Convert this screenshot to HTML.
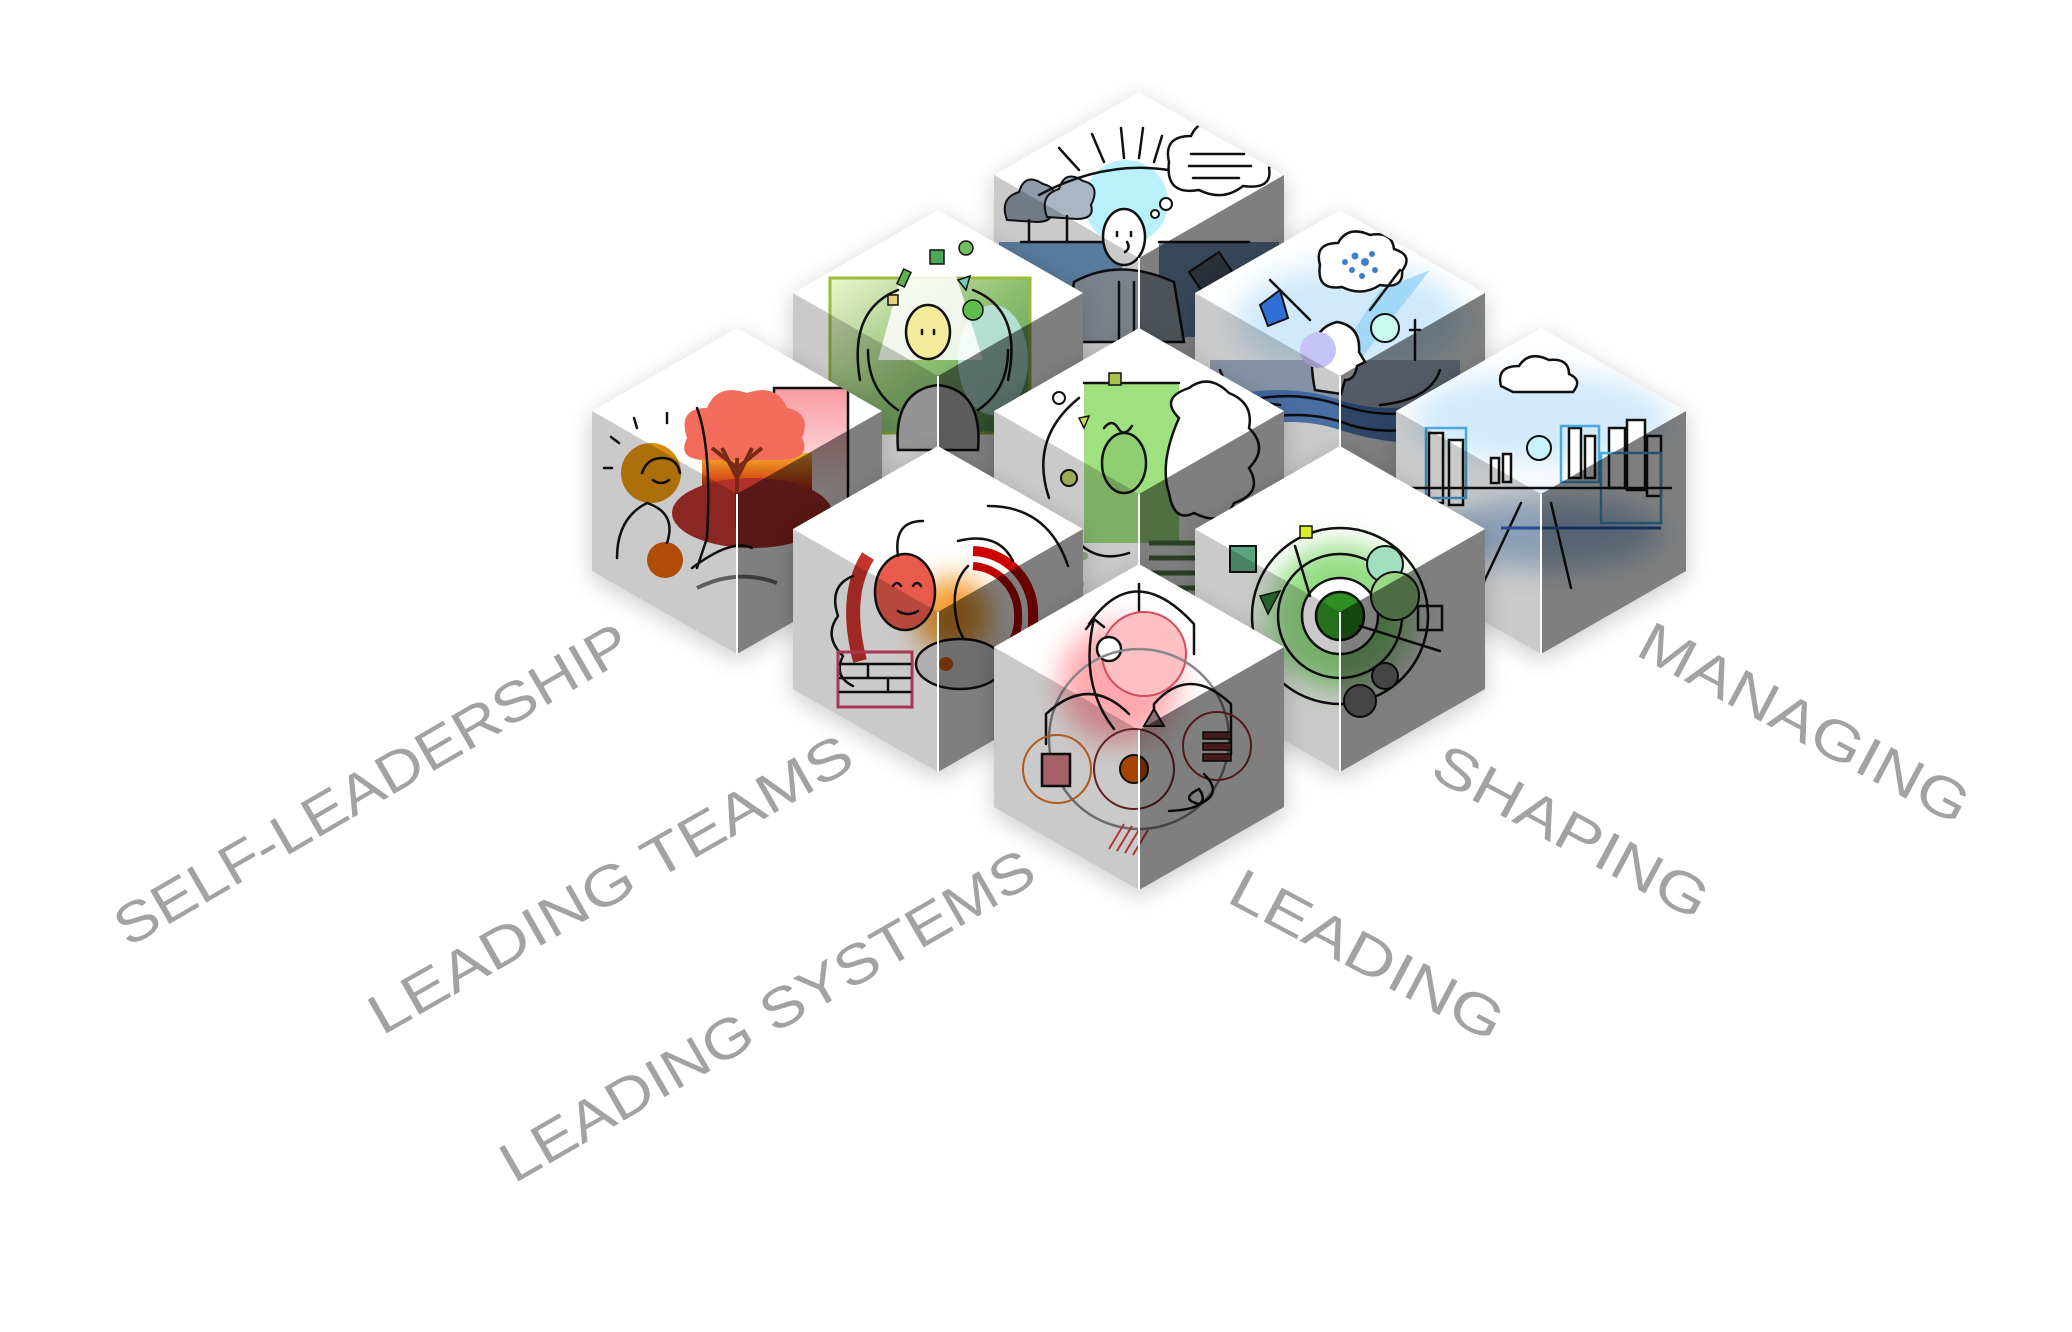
<!DOCTYPE html>
<html><head><meta charset="utf-8"><style>
html,body{margin:0;padding:0;background:#fff;}
svg{display:block}
.lbl{font-family:"Liberation Sans",sans-serif;font-size:56px;fill:#a2a2a2;}
.k{fill:none;stroke:#111;stroke-width:2.5;stroke-linecap:round;stroke-linejoin:round}
.mf{mix-blend-mode:multiply}
</style></head><body>
<svg width="2072" height="1332" viewBox="0 0 2072 1332" xmlns="http://www.w3.org/2000/svg">
<defs>
<polygon id="hex" points="0,0 145,83 145,243 0,326 -145,243 -145,83"/>
<clipPath id="hc"><polygon points="0,0 145,83 145,243 0,326 -145,243 -145,83"/></clipPath>
<filter id="sh" x="-30%" y="-30%" width="160%" height="160%"><feGaussianBlur stdDeviation="12"/></filter>
<filter id="bl" x="-50%" y="-50%" width="200%" height="200%"><feGaussianBlur stdDeviation="14"/></filter>
<linearGradient id="sun" x1="0" y1="0" x2="0" y2="1"><stop offset="0" stop-color="#f7b22a"/><stop offset="1" stop-color="#c4180c"/></linearGradient>
<linearGradient id="pk" x1="0" y1="0" x2="0" y2="1"><stop offset="0" stop-color="#f99aa2"/><stop offset="1" stop-color="#fff"/></linearGradient>
<linearGradient id="gr" x1="0" y1="0" x2="1" y2="1"><stop offset="0" stop-color="#e9f4c8"/><stop offset="0.5" stop-color="#7ab357"/><stop offset="1" stop-color="#2f7a3a"/></linearGradient>
</defs>

<!-- labels -->
<text class="lbl" transform="translate(128,948) rotate(-30.1)" textLength="586" lengthAdjust="spacingAndGlyphs">SELF-LEADERSHIP</text>
<text class="lbl" transform="translate(382,1036) rotate(-29.6)" textLength="547" lengthAdjust="spacingAndGlyphs">LEADING TEAMS</text>
<text class="lbl" transform="translate(514,1184) rotate(-30)" textLength="607" lengthAdjust="spacingAndGlyphs">LEADING SYSTEMS</text>
<text class="lbl" transform="translate(1634,654) rotate(28)" textLength="366" lengthAdjust="spacingAndGlyphs">MANAGING</text>
<text class="lbl" transform="translate(1428,776) rotate(28.4)" textLength="305" lengthAdjust="spacingAndGlyphs">SHAPING</text>
<text class="lbl" transform="translate(1225,901) rotate(28)" textLength="302" lengthAdjust="spacingAndGlyphs">LEADING</text>

<!-- CUBE 0 top -->
<g transform="translate(1139,92)">
<use href="#hex" fill="#000" opacity=".2" filter="url(#sh)" transform="translate(0,6)"/>
<use href="#hex" fill="#fff"/>
<g clip-path="url(#hc)">
<circle cx="-13" cy="110" r="42" fill="#b9f1fb"/>
<polygon points="-140,150 -10,150 -35,245 -140,245" fill="#6f9ac4"/>
<polygon points="20,150 140,150 140,245 20,245" fill="#6d8fb5"/>
<path class="k" d="M-118,150 H-10 M20,150 H110"/>
<path d="M-132,128 q-8,-22 12,-28 q6,-20 24,-8 q18,4 8,24 q4,14 -14,14 z" fill="#8d9bab" stroke="#111" stroke-width="2"/>
<path d="M-92,125 q-8,-22 12,-28 q6,-20 24,-8 q18,4 8,24 q4,14 -14,14 z" fill="#a9b6c3" stroke="#111" stroke-width="2"/>
<path class="k" d="M-110,128 V150 M-72,124 V150"/>
<path class="k" d="M-100,103 Q-20,60 60,85"/>
<path class="k" d="M-60,78 l-20,-22 M-35,70 l-12,-28 M-15,66 l-3,-30 M0,66 l4,-30 M15,70 l8,-26"/>
<path d="M30,70 q-6,-26 22,-26 q10,-22 36,-10 q26,-6 30,16 q24,6 12,26 q4,22 -26,18 q-20,16 -44,4 q-34,6 -30,-28z" fill="#fff" stroke="#111" stroke-width="2.5"/>
<path class="k" d="M52,62 H105 M50,74 H112 M54,86 H100"/>
<circle cx="27" cy="112" r="6" fill="#fff" stroke="#111" stroke-width="2"/><circle cx="16" cy="122" r="4" fill="#fff" stroke="#111" stroke-width="2"/>
<path d="M-65,190 q45,-25 100,0 l10,60 h-120z" fill="#9ba4ae" stroke="#111" stroke-width="2.5"/>
<path class="k" d="M-20,190 V250 M-5,190 V250"/>
<ellipse cx="-15" cy="145" rx="21" ry="28" fill="#fff" stroke="#111" stroke-width="2.5"/>
<path class="k" d="M-22,140 v4 M-8,140 v4 M-12,150 q4,6 -2,10"/>
<path d="M50,180 l30,-20 l20,30 l-30,20z" fill="#556170" stroke="#111" stroke-width="2"/>
</g>
<polygon class="mf" points="-145,83 0,166 0,326 -145,243" fill="#cacaca"/>
<polygon class="mf" points="145,83 0,166 0,326 145,243" fill="#7f7f7f"/>
<line x1="0" y1="166" x2="0" y2="326" stroke="#fff" stroke-width="2"/>
</g>

<!-- CUBE 1 green person -->
<g transform="translate(938,210)">
<use href="#hex" fill="#000" opacity=".2" filter="url(#sh)" transform="translate(0,6)"/>
<use href="#hex" fill="#fff"/>
<g clip-path="url(#hc)">
<rect x="-108" y="68" width="200" height="155" fill="url(#gr)" opacity=".85"/>
<ellipse cx="55" cy="150" rx="35" ry="55" fill="#bfe8ea" opacity=".8"/>
<rect x="-108" y="68" width="200" height="155" fill="none" stroke="#9bbb3c" stroke-width="3"/>
<polygon points="-30,40 10,40 45,150 -60,150" fill="#fff" opacity=".85"/>
<path class="k" d="M-78,170 Q-90,100 -40,80 M70,170 Q85,100 35,80"/>
<path d="M-40,240 q-5,-60 40,-65 q45,5 40,65z" fill="#bbb" stroke="#111" stroke-width="2.5"/>
<path class="k" d="M-40,200 Q-70,180 -70,140 M40,200 Q70,180 70,140"/>
<ellipse cx="-10" cy="122" rx="22" ry="27" fill="#f3ea9a" stroke="#111" stroke-width="2.5"/>
<path class="k" d="M-16,120 v4 M-4,120 v4"/>
<rect x="-38" y="60" width="8" height="16" fill="#5db54a" stroke="#111" stroke-width="1.5" transform="rotate(25 -34 68)"/>
<rect x="-8" y="40" width="14" height="14" fill="#4aa85a" stroke="#111" stroke-width="1.5"/>
<circle cx="28" cy="38" r="7" fill="#6ec05a" stroke="#111" stroke-width="1.5"/>
<circle cx="35" cy="100" r="10" fill="#5cc04a" stroke="#111" stroke-width="1.5"/>
<polygon points="20,70 32,66 28,80" fill="#6ad0b0" stroke="#111" stroke-width="1.5"/>
<rect x="-50" y="85" width="10" height="10" fill="#e3d27a" stroke="#111" stroke-width="1.5"/>
</g>
<polygon class="mf" points="-145,83 0,166 0,326 -145,243" fill="#cacaca"/>
<polygon class="mf" points="145,83 0,166 0,326 145,243" fill="#7f7f7f"/>
<line x1="0" y1="166" x2="0" y2="326" stroke="#fff" stroke-width="2"/>
</g>

<!-- CUBE 2 swimmer -->
<g transform="translate(1340,210)">
<use href="#hex" fill="#000" opacity=".2" filter="url(#sh)" transform="translate(0,6)"/>
<use href="#hex" fill="#fff"/>
<g clip-path="url(#hc)">
<ellipse cx="10" cy="110" rx="115" ry="55" fill="#cfe9fb" filter="url(#bl)"/>
<polygon points="-5,150 40,80 90,60 20,150" fill="#8fd0f7" opacity=".7"/>
<path d="M-130,150 H120 V190 Q60,210 0,195 Q-60,180 -130,200z" fill="#a8b7cf"/>
<path d="M-130,190 Q-60,170 0,190 Q60,210 130,180 V230 Q60,240 0,220 Q-60,200 -130,230z" fill="#3f78c4" opacity=".85"/>
<path class="k" d="M-120,200 Q-60,175 0,195 Q60,215 120,190 M-110,215 Q-40,195 10,215 Q60,230 120,205"/>
<path class="k" d="M-120,160 q10,30 60,35 M100,160 q-10,30 -60,35"/>
<path d="M-25,180 q-12,-60 22,-68 q24,4 22,30 l6,10 -8,4 q-2,14 -12,14 l-4,14z" fill="#fff" stroke="#111" stroke-width="2.5"/>
<circle cx="-22" cy="140" r="18" fill="#c5c2f6"/>
<path d="M-20,55 q-6,-22 18,-22 q10,-18 32,-8 q22,-4 24,14 q20,6 8,22 q2,18 -22,14 q-18,12 -38,2 q-26,4 -22,-22z" fill="#fff" stroke="#111" stroke-width="2.5"/>
<g fill="#3f7fd0"><circle cx="5" cy="52" r="3"/><circle cx="15" cy="46" r="3.5"/><circle cx="25" cy="52" r="4"/><circle cx="12" cy="60" r="3"/><circle cx="32" cy="44" r="3"/><circle cx="35" cy="60" r="3"/><circle cx="22" cy="66" r="3"/></g>
<polygon points="-80,95 -60,80 -52,108 -72,116" fill="#2f6fd6" stroke="#111" stroke-width="2"/>
<circle cx="45" cy="118" r="14" fill="#c8fbee" stroke="#111" stroke-width="2"/>
<path class="k" d="M75,110 v40 M70,120 h10 M-70,70 l40,40 M60,60 l-30,40"/>
</g>
<polygon class="mf" points="-145,83 0,166 0,326 -145,243" fill="#cacaca"/>
<polygon class="mf" points="145,83 0,166 0,326 145,243" fill="#7f7f7f"/>
<line x1="0" y1="166" x2="0" y2="326" stroke="#fff" stroke-width="2"/>
</g>

<!-- CUBE 3 self-leadership -->
<g transform="translate(737,328)">
<use href="#hex" fill="#000" opacity=".2" filter="url(#sh)" transform="translate(0,6)"/>
<use href="#hex" fill="#fff"/>
<g clip-path="url(#hc)">
<rect x="37" y="60" width="74" height="122" fill="url(#pk)" stroke="#111" stroke-width="2.5"/>
<rect x="-35" y="125" width="110" height="40" fill="url(#sun)"/>
<ellipse cx="15" cy="185" rx="80" ry="35" fill="#b0302a"/>
<circle cx="-86" cy="145" r="30" fill="#d98c0b"/>
<circle cx="-72" cy="232" r="18" fill="#de5f0c"/>
<path d="M-50,110 q-10,-30 20,-30 q10,-25 40,-15 q30,-10 40,15 q25,5 15,30 q10,20 -20,22 h-80 q-25,-2 -15,-22z" fill="#f26c5c"/>
<path d="M0,200 V130 M0,140 l-25,-20 M0,140 l25,-20 M0,150 l-15,-30 M0,150 l15,-30" stroke="#7a2a14" stroke-width="4" fill="none"/>
<path class="k" d="M-40,80 q15,40 10,130 l-10,30 M-45,240 q40,-30 60,-20 M-120,230 q0,-40 30,-55 q30,10 20,40"/>
<path class="k" d="M-95,145 q5,-15 20,-15 q15,0 18,15 M-84,152 q8,6 16,0"/>
<path class="k" d="M-125,140 h-8 M-118,115 l-8,-6 M-100,100 l-3,-10 M-70,95 v-10"/>
<path d="M-40,260 q40,-20 80,-5" stroke="#777" stroke-width="4" fill="none"/>
</g>
<polygon class="mf" points="-145,83 0,166 0,326 -145,243" fill="#cacaca"/>
<polygon class="mf" points="145,83 0,166 0,326 145,243" fill="#7f7f7f"/>
<line x1="0" y1="166" x2="0" y2="326" stroke="#fff" stroke-width="2"/>
</g>

<!-- CUBE 4 middle green -->
<g transform="translate(1139,328)">
<use href="#hex" fill="#000" opacity=".2" filter="url(#sh)" transform="translate(0,6)"/>
<use href="#hex" fill="#fff"/>
<g clip-path="url(#hc)">
<rect x="-55" y="55" width="95" height="160" fill="#9fe07f"/>
<path d="M40,90 q-20,-20 10,-30 q20,-15 40,5 q25,10 20,35 q20,20 0,40 q15,25 -15,35 q-10,25 -40,10 q-20,10 -25,-20 q-10,-30 10,-75z" fill="#fff" stroke="#111" stroke-width="2.5"/>
<g stroke="#55804a" stroke-width="5"><path d="M10,215 H90 M10,230 H90 M10,245 H90 M10,260 H90"/></g>
<g fill="#b5d89a"><circle cx="-80" cy="230" r="5"/><circle cx="-65" cy="240" r="5"/><circle cx="-75" cy="252" r="5"/><circle cx="-55" cy="228" r="4"/><circle cx="-60" cy="256" r="5"/></g>
<ellipse cx="-15" cy="135" rx="22" ry="30" fill="#8fcf72" stroke="#111" stroke-width="2.5"/>
<path class="k" d="M-55,55 H40 M-90,170 q-20,-60 30,-100 M-60,215 q20,20 50,10"/>
<path class="k" d="M-35,100 q8,-10 14,0 q6,10 14,-2"/>
<circle cx="-80" cy="70" r="6" fill="#fff" stroke="#111" stroke-width="2"/>
<circle cx="-70" cy="150" r="8" fill="#c9d86a" stroke="#111" stroke-width="2"/>
<rect x="-30" y="45" width="12" height="12" fill="#a7c04a" stroke="#111" stroke-width="1.5"/>
<polygon points="-60,90 -50,88 -55,100" fill="#c8e04a" stroke="#111" stroke-width="1.5"/>
</g>
<polygon class="mf" points="-145,83 0,166 0,326 -145,243" fill="#cacaca"/>
<polygon class="mf" points="145,83 0,166 0,326 145,243" fill="#7f7f7f"/>
<line x1="0" y1="166" x2="0" y2="326" stroke="#fff" stroke-width="2"/>
</g>

<!-- CUBE 5 managing -->
<g transform="translate(1541,328)">
<use href="#hex" fill="#000" opacity=".2" filter="url(#sh)" transform="translate(0,6)"/>
<use href="#hex" fill="#fff"/>
<g clip-path="url(#hc)">
<ellipse cx="0" cy="90" rx="130" ry="45" fill="#d2eafb" filter="url(#bl)"/>
<ellipse cx="10" cy="205" rx="110" ry="35" fill="#4f86c6" opacity=".45" filter="url(#bl)"/>
<path d="M-40,58 q-5,-20 18,-20 q10,-16 30,-6 q20,-2 20,14 q14,6 4,18 h-60z" fill="#fff" stroke="#111" stroke-width="2.5"/>
<circle cx="-2" cy="120" r="12" fill="#c8f3fb" stroke="#111" stroke-width="2"/>
<g fill="#fff" stroke="#111" stroke-width="2.5">
<rect x="-112" y="105" width="14" height="70"/><rect x="-92" y="112" width="14" height="65"/>
<rect x="-50" y="130" width="8" height="25"/><rect x="-38" y="126" width="8" height="28"/>
<rect x="28" y="100" width="12" height="50"/><rect x="44" y="108" width="10" height="42"/>
<rect x="68" y="100" width="16" height="60"/><rect x="86" y="92" width="18" height="70"/><rect x="106" y="108" width="14" height="60"/>
</g>
<path d="M-115,100 h40 v70 h-40z M20,98 h38 v56 h-38z M60,125 h60 v70 h-60z" fill="none" stroke="#4aa8e0" stroke-width="2.5"/>
<path class="k" d="M-20,175 L-60,260 M10,175 L30,260 M-130,160 H130"/>
<path d="M-40,200 H120" stroke="#2a5fb8" stroke-width="3"/>
</g>
<polygon class="mf" points="-145,83 0,166 0,326 -145,243" fill="#cacaca"/>
<polygon class="mf" points="145,83 0,166 0,326 145,243" fill="#7f7f7f"/>
<line x1="0" y1="166" x2="0" y2="326" stroke="#fff" stroke-width="2"/>
</g>

<!-- CUBE 6 leading teams -->
<g transform="translate(938,446)">
<use href="#hex" fill="#000" opacity=".2" filter="url(#sh)" transform="translate(0,6)"/>
<use href="#hex" fill="#fff"/>
<g clip-path="url(#hc)">
<circle cx="15" cy="170" r="38" fill="#f39a2a" filter="url(#bl)"/>
<path d="M-78,215 Q-95,150 -70,110" stroke="#c8322a" stroke-width="14" fill="none"/>
<path d="M35,105 A62,62 0 0 1 95,170 A62,62 0 0 1 60,230" stroke="#d10000" stroke-width="10" fill="none"/>
<path d="M35,120 A48,48 0 0 1 80,170 A48,48 0 0 1 55,215" stroke="#c00000" stroke-width="8" fill="none"/>
<path d="M-85,130 q-25,10 -15,40 q-15,20 5,40 q-10,20 10,30" class="k"/>
<ellipse cx="-33" cy="146" rx="30" ry="38" fill="#e85a4c" stroke="#111" stroke-width="2.5"/>
<path class="k" d="M-45,140 q4,-6 8,0 M-25,140 q4,-6 8,0 M-40,165 q10,6 20,0"/>
<path d="M30,120 q-20,20 -10,60 q10,30 30,20" class="k"/>
<path class="k" d="M-40,110 q-5,-35 25,-35 M20,95 q40,-10 55,20 M50,60 q60,0 80,60"/>
<rect x="-100" y="206" width="74" height="55" fill="none" stroke="#d4446a" stroke-width="3"/>
<path class="k" d="M-98,218 H-28 M-98,232 H-28 M-98,246 H-28 M-70,218 V232 M-50,232 V246"/>
<ellipse cx="22" cy="218" rx="44" ry="25" fill="#ddd" stroke="#111" stroke-width="2.5"/>
<circle cx="8" cy="218" r="7" fill="#e0650c"/>
</g>
<polygon class="mf" points="-145,83 0,166 0,326 -145,243" fill="#cacaca"/>
<polygon class="mf" points="145,83 0,166 0,326 145,243" fill="#7f7f7f"/>
<line x1="0" y1="166" x2="0" y2="326" stroke="#fff" stroke-width="2"/>
</g>

<!-- CUBE 7 shaping -->
<g transform="translate(1340,446)">
<use href="#hex" fill="#000" opacity=".2" filter="url(#sh)" transform="translate(0,6)"/>
<use href="#hex" fill="#fff"/>
<g clip-path="url(#hc)">
<circle cx="0" cy="170" r="72" fill="#6fd05a" opacity=".75" filter="url(#bl)"/>
<circle cx="0" cy="170" r="88" class="k"/>
<circle cx="0" cy="170" r="62" class="k"/>
<circle cx="0" cy="170" r="38" fill="#fff" stroke="#111" stroke-width="2.5"/>
<circle cx="0" cy="170" r="24" fill="#2e8f22" stroke="#111" stroke-width="2.5"/>
<rect x="-110" y="100" width="26" height="26" fill="#5aa57f" stroke="#111" stroke-width="2"/>
<circle cx="45" cy="118" r="18" fill="#a0e0c0" stroke="#111" stroke-width="2"/>
<circle cx="55" cy="150" r="24" fill="#9ad888" stroke="#111" stroke-width="2"/>
<circle cx="-75" cy="215" r="18" fill="#b5c95a" stroke="#111" stroke-width="2"/>
<rect x="78" y="160" width="24" height="24" fill="none" stroke="#111" stroke-width="2.5"/>
<polygon points="-80,150 -60,145 -72,168" fill="#2e7a32" stroke="#111" stroke-width="1.5"/>
<rect x="-40" y="80" width="12" height="12" fill="#d8f020" stroke="#111" stroke-width="1.5"/>
<path class="k" d="M-30,150 L-45,100 M20,180 L100,205"/>
<g fill="#888" stroke="#111" stroke-width="2"><circle cx="20" cy="255" r="16"/><circle cx="45" cy="230" r="13"/></g>
</g>
<polygon class="mf" points="-145,83 0,166 0,326 -145,243" fill="#cacaca"/>
<polygon class="mf" points="145,83 0,166 0,326 145,243" fill="#7f7f7f"/>
<line x1="0" y1="166" x2="0" y2="326" stroke="#fff" stroke-width="2"/>
</g>

<!-- CUBE 8 leading -->
<g transform="translate(1139,564)">
<use href="#hex" fill="#000" opacity=".2" filter="url(#sh)" transform="translate(0,6)"/>
<use href="#hex" fill="#fff"/>
<g clip-path="url(#hc)">
<circle cx="-20" cy="120" r="60" fill="#ff9aa0" opacity=".85" filter="url(#bl)"/>
<path class="k" d="M0,20 V60"/>
<circle cx="5" cy="90" r="42" fill="#ffc0c4" stroke="#d84a5a" stroke-width="2"/>
<circle cx="-30" cy="85" r="12" fill="#fff" stroke="#111" stroke-width="2.5"/>
<circle cx="0" cy="175" r="90" fill="none" stroke="#888" stroke-width="2.5"/>
<path class="k" d="M-93,180 V150 Q-50,110 -10,150 M15,160 V140 Q50,100 92,140 V190 M-50,60 Q-5,-5 55,60 V90"/>
<path class="k" d="M-25,165 Q-60,120 -45,55 l10,8 M-45,55 l-8,10"/>
<circle cx="-82" cy="205" r="34" fill="none" stroke="#e07020" stroke-width="2"/>
<rect x="-97" y="190" width="28" height="32" fill="#d07a82" stroke="#111" stroke-width="2.5"/>
<circle cx="-5" cy="205" r="40" fill="none" stroke="#7a2a2a" stroke-width="2"/>
<circle cx="-5" cy="205" r="14" fill="#d35400" stroke="#111" stroke-width="2"/>
<circle cx="78" cy="182" r="34" fill="none" stroke="#a03030" stroke-width="2"/>
<g fill="#8a3535" stroke="#111" stroke-width="1.5"><rect x="64" y="168" width="28" height="7"/><rect x="64" y="179" width="28" height="7"/><rect x="64" y="190" width="28" height="7"/></g>
<polygon points="15,145 5,162 25,162" fill="#8a7070" stroke="#111" stroke-width="2"/>
<path d="M-30,285 l15,-25 M-22,287 l15,-25 M-14,289 l15,-25 M-6,291 l15,-25" stroke="#e04040" stroke-width="2"/>
<path class="k" d="M65,210 q20,20 -5,30 q-20,-5 0,-15 q15,20 -30,22"/>
</g>
<polygon class="mf" points="-145,83 0,166 0,326 -145,243" fill="#cacaca"/>
<polygon class="mf" points="145,83 0,166 0,326 145,243" fill="#7f7f7f"/>
<line x1="0" y1="166" x2="0" y2="326" stroke="#fff" stroke-width="2"/>
</g>
</svg>
</body></html>
